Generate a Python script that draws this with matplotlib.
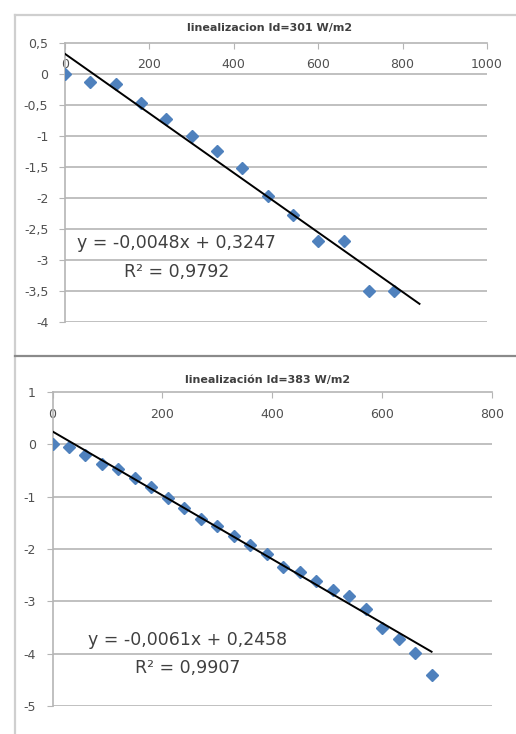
import matplotlib
matplotlib.use("Agg")
import matplotlib.pyplot as plt
from matplotlib.lines import Line2D
from matplotlib.ticker import FuncFormatter, FixedLocator

# ---------------- data ----------------
top_title = "linealizacion Id=301 W/m2"
top_x = [0, 60, 120, 180, 240, 300, 360, 420, 480, 540, 600, 660, 720, 780]
top_y = [0, -0.13, -0.16, -0.46, -0.73, -1.0, -1.24, -1.51, -1.96, -2.27,
         -2.69, -2.69, -3.5, -3.5]
top_slope, top_intercept = -0.0048, 0.3247
top_trend_range = [0, 840]
top_eq = "y = -0,0048x + 0,3247"
top_r2 = "R² = 0,9792"
top_xticks = [0, 200, 400, 600, 800, 1000]
top_yticks = [0.5, 0, -0.5, -1, -1.5, -2, -2.5, -3, -3.5, -4]

bot_title = "linealización Id=383 W/m2"
bot_x = [0, 30, 60, 90, 120, 150, 180, 210, 240, 270, 300, 330, 360, 390,
         420, 450, 480, 510, 540, 570, 600, 630, 660, 690]
bot_y = [0, -0.06, -0.2, -0.37, -0.48, -0.64, -0.81, -1.02, -1.21, -1.42,
         -1.57, -1.76, -1.92, -2.10, -2.34, -2.44, -2.62, -2.78, -2.89,
         -3.14, -3.51, -3.72, -3.99, -4.41]
bot_slope, bot_intercept = -0.0061, 0.2458
bot_trend_range = [0, 690]
bot_eq = "y = -0,0061x + 0,2458"
bot_r2 = "R² = 0,9907"
bot_xticks = [0, 200, 400, 600, 800]
bot_yticks = [1, 0, -1, -2, -3, -4, -5]

# ---------------- style ----------------
W, H = 516, 734
fig = plt.figure(figsize=(W / 100, H / 100), dpi=100)
fig.patch.set_facecolor("white")

MARKER = "#4F81BD"
GRID = "#b5b5b5"
TXT = "#404040"
TICKTXT = "#505050"


def fx(px):
    return px / W


def fy(py):
    return 1 - py / H


def comma(v, pos=None):
    s = f"{v:g}"
    return s.replace(".", ",")


def make_panel(rect, xs, ys, slope, icpt, trange, xticks, yticks,
               eq, r2, eq_pos, r2_pos, pad_x):
    ax = fig.add_axes(rect)
    ax.set_xlim(xticks[0], xticks[-1])
    ax.set_ylim(yticks[-1], yticks[0])
    for s in ("right", "bottom"):
        ax.spines[s].set_visible(False)
    for s in ("left", "top"):
        ax.spines[s].set_color(GRID)
        ax.spines[s].set_linewidth(1.2)
    ax.xaxis.tick_top()
    ax.xaxis.set_major_locator(FixedLocator(xticks))
    ax.yaxis.set_major_locator(FixedLocator(yticks))
    ax.xaxis.set_major_formatter(FuncFormatter(comma))
    ax.yaxis.set_major_formatter(FuncFormatter(comma))
    ax.tick_params(axis="x", direction="in", length=4, color=GRID,
                   pad=pad_x, labelsize=9, labelcolor=TICKTXT)
    ax.tick_params(axis="y", direction="out", length=4, color=GRID,
                   pad=8, labelsize=9, labelcolor=TICKTXT)
    for v in yticks[1:]:
        ax.axhline(v, color=GRID, lw=1.2, zorder=1)
    ax.plot(xs, ys, linestyle="none", marker="D", ms=6.5, color=MARKER,
            markeredgecolor=MARKER, zorder=3)
    tx = trange
    ty = [slope * v + icpt for v in tx]
    ax.plot(tx, ty, color="black", lw=1.4, zorder=4)
    ax.text(eq_pos[0], eq_pos[1], eq, ha="center", va="center",
            fontsize=12.5, color=TXT, zorder=5)
    ax.text(r2_pos[0], r2_pos[1], r2, ha="center", va="center",
            fontsize=12.5, color=TXT, zorder=5)
    return ax


# top panel: axes px 65..487 x, 43..322 y
make_panel([fx(65), fy(322), fx(487) - fx(65), fy(43) - fy(322)],
           top_x, top_y, top_slope, top_intercept, top_trend_range,
           top_xticks, top_yticks, top_eq, top_r2,
           (265, -2.73), (265, -3.19), -20)
fig.text(fx(270), fy(28), top_title, ha="center", va="center",
         fontsize=8, fontweight="bold", color=TXT)

# bottom panel: axes px 52.5..492 x, 392..706 y
make_panel([fx(52.5), fy(706), fx(492) - fx(52.5), fy(392) - fy(706)],
           bot_x, bot_y, bot_slope, bot_intercept, bot_trend_range,
           bot_xticks, bot_yticks, bot_eq, bot_r2,
           (246, -3.74), (246, -4.28), -21)
fig.text(fx(268), fy(380), bot_title, ha="center", va="center",
         fontsize=8, fontweight="bold", color=TXT)

# panel borders
fig.add_artist(Line2D([fx(14.5), 1], [fy(14.5), fy(14.5)], color="#cfcfcf", lw=1.6))
fig.add_artist(Line2D([fx(14.5), fx(14.5)], [fy(14.5), 0], color="#cfcfcf", lw=1.6))
fig.add_artist(Line2D([fx(14.5), 1], [fy(355.5), fy(355.5)], color="#8a8a8a", lw=1.6))

fig.savefig("out.png", dpi=100, facecolor="white")
